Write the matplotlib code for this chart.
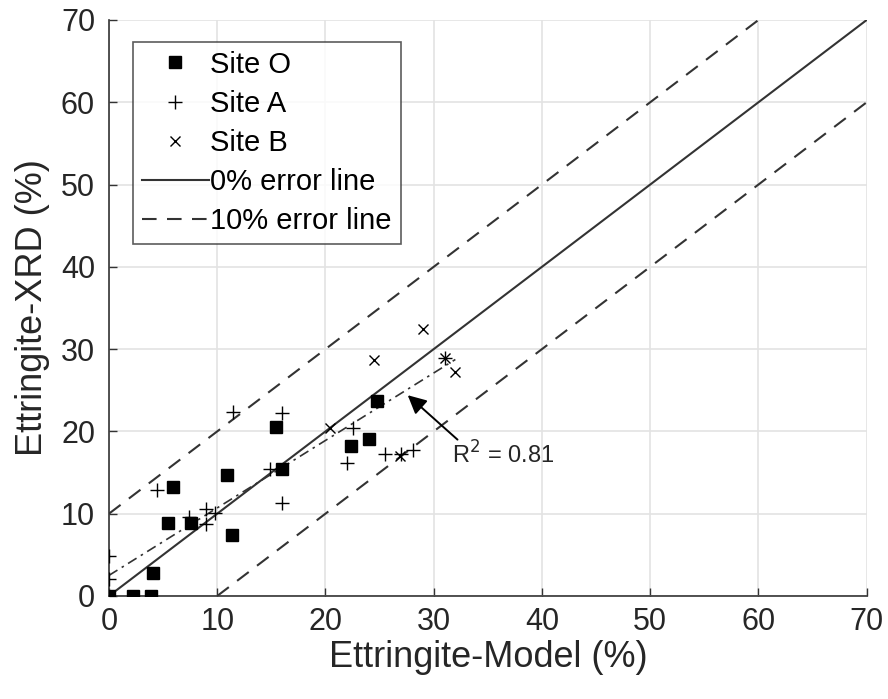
import matplotlib.pyplot as plt
import numpy as np

plt.rcParams['font.family'] = ['Liberation Sans', 'DejaVu Sans']

# Site O (squares)
site_o_x = [0.0, 2.2, 3.9, 4.1, 5.5, 5.9, 7.6, 10.9, 11.4, 15.4, 16.0, 22.4, 24.0, 24.8]
site_o_y = [0.0, 0.0, 0.0, 2.8, 8.9, 13.2, 8.9, 14.7, 7.4, 20.5, 15.4, 18.2, 19.1, 23.7]

# Site A (plus)
site_a_x = [0.0, 0.0, 4.4, 7.4, 9.0, 9.0, 9.8, 11.5, 16.0, 16.0, 14.9, 22.5, 22.0, 25.5, 27.0, 28.1, 31.0]
site_a_y = [4.9, 2.1, 12.9, 9.6, 10.6, 8.8, 10.1, 22.4, 22.2, 11.3, 15.4, 20.4, 16.2, 17.3, 17.2, 17.7, 28.9]

# Site B (x)
site_b_x = [29.0, 24.5, 31.0, 32.0, 20.4, 26.9]
site_b_y = [32.5, 28.7, 28.9, 27.2, 20.4, 17.0]

# regression fit
fit_x = [0.0, 32.0]
fit_slope = 0.82
fit_icpt = 2.5

fig = plt.figure(figsize=(8.88, 6.99), dpi=100)
ax = fig.add_axes([0.1227, 0.1474, 0.8533, 0.824])

ax.grid(True, color='#e3e3e3', linewidth=1.2, zorder=0)
ax.set_axisbelow(True)

ax.plot(site_o_x, site_o_y, 's', color='black', markersize=8.5, linestyle='none', label='Site O', zorder=4)
ax.plot(site_a_x, site_a_y, '+', color='black', markersize=9.5, markeredgewidth=1.0, linestyle='none', label='Site A', zorder=4)
ax.plot(site_b_x, site_b_y, 'x', color='black', markersize=7, markeredgewidth=1.0, linestyle='none', label='Site B', zorder=4)

ax.plot([0, 70], [0, 70], '-', color='#333333', linewidth=1.5, label='0% error line', zorder=3)
ax.plot([0, 60], [10, 70], '--', color='#333333', linewidth=1.5, dashes=(7, 5), label='10% error line', zorder=3)
ax.plot([10, 70], [0, 60], '--', color='#333333', linewidth=1.5, dashes=(7, 5), zorder=3)

fx = np.array(fit_x)
ax.plot(fx, fit_slope * fx + fit_icpt, color='#333333', linewidth=1.2, dashes=(6, 3, 1.5, 3), zorder=3)

# arrow pointing at the fit line
ax.annotate('', xy=(27.6, 24.4), xytext=(32.2, 19.0),
            arrowprops=dict(arrowstyle='-|>', color='black', lw=1.4, mutation_scale=28,
                            shrinkA=0, shrinkB=0))
ax.text(31.7, 17.1, 'R$^2$ = 0.81', fontsize=17, ha='left', va='center', color='#262626')

ax.set_xlim(0, 70)
ax.set_ylim(0, 70)
ax.set_xticks(np.arange(0, 71, 10))
ax.set_yticks(np.arange(0, 71, 10))
ax.tick_params(direction='in', labelsize=22, length=6, width=1, color='#333333', labelcolor='#262626')
ax.tick_params(axis='x', pad=8)
ax.tick_params(axis='y', pad=10)
for s in ['top', 'right']:
    ax.spines[s].set_visible(False)
for s in ['left', 'bottom']:
    ax.spines[s].set_color('#333333')
    ax.spines[s].set_linewidth(1.2)

ax.set_xlabel('Ettringite-Model (%)', fontsize=26, color='#262626', labelpad=2)
ax.set_ylabel('Ettringite-XRD (%)', fontsize=26, color='#262626', labelpad=8)

leg = ax.legend(loc='upper left', bbox_to_anchor=(0.032, 0.962), fontsize=21, frameon=True,
                fancybox=False, edgecolor='#333333', handlelength=2.3, handletextpad=0.05,
                borderpad=0.3, labelspacing=0.38, borderaxespad=0)
leg.get_frame().set_linewidth(1.2)

fig.savefig('out.png', dpi=100)
